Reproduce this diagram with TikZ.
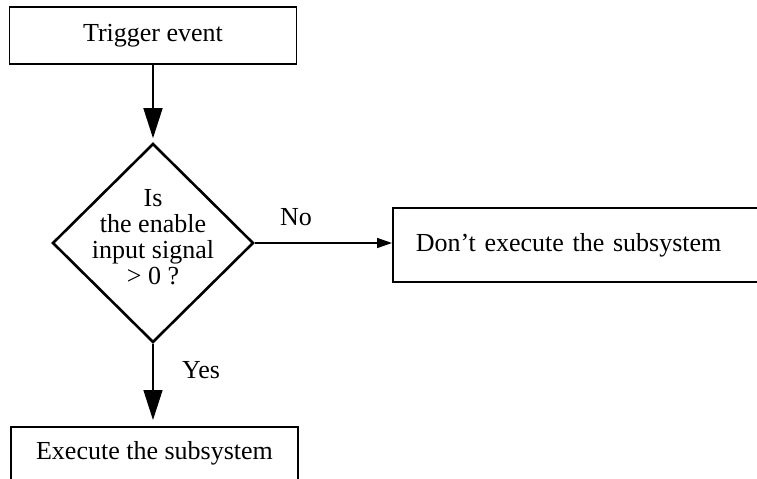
\documentclass[tikz,border=0pt]{standalone}
\usepackage{fontspec}
\setmainfont{Liberation Serif}
\usetikzlibrary{shapes.geometric,arrows.meta}

\begin{document}
\begin{tikzpicture}[x=0.5pt, y=-0.5pt,
  font=\fontsize{13}{13}\selectfont,
  box/.style={draw, line width=0.75pt},
  decide/.style={draw, diamond, line width=1.3pt, inner sep=-6pt,
    minimum width=100.5pt, minimum height=99.5pt, align=center, text depth=6pt},
  bigtip/.style={line width=0.75pt, -{Triangle[length=15pt, width=9.5pt]}},
  smalltip/.style={line width=0.75pt, -{Triangle[length=7.5pt, width=5pt]}}]
  \useasboundingbox (0,0) rectangle (757,478);
  % Steps and decision
  \node[box, minimum width=143.5pt, minimum height=28.5pt] (trigger) at (153,35.5) {Trigger event};
  \node[decide] (enabled) at (153,243) {Is\\the enable\\input signal\\> 0 ?};
  \node[box, anchor=west, minimum height=37pt, inner xsep=11.5pt, text width=180pt, align=left]
    (skip) at (392,245) {Don't execute the subsystem};
  \node[box, anchor=north, minimum width=143.5pt, inner ysep=7.3pt, text height=9pt, text depth=14pt]
    (run) at (154.5,426) {Execute the subsystem};
  % Connectors
  \draw[bigtip, shorten >=2pt] (trigger.south) -- (enabled.north);
  \draw[smalltip] (enabled.east) -- (skip.west |- enabled.east);
  \draw[bigtip, shorten >=3pt] (enabled.south) -- (enabled.south |- run.north);
  % Branch labels
  \node (no) at (296,217) {No};
  \node (yes) at (201,370) {Yes};
\end{tikzpicture}
\end{document}
